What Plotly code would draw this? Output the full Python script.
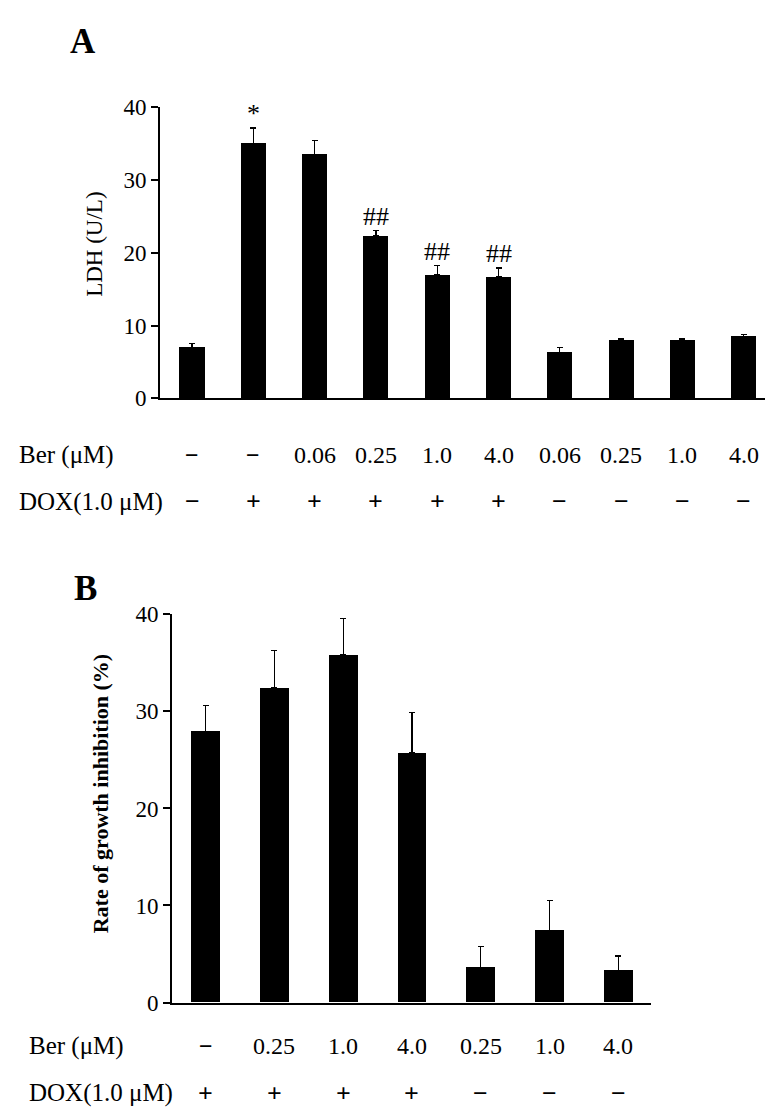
import plotly.graph_objects as go

# ---------------- data ----------------
# Panel A
a_ber = ["−", "−", "0.06", "0.25", "1.0", "4.0", "0.06", "0.25", "1.0", "4.0"]
a_dox = ["−", "+", "+", "+", "+", "+", "−", "−", "−", "−"]
a_ldh = [7.0, 35.0, 33.5, 22.3, 17.0, 16.7, 6.3, 8.0, 8.0, 8.5]
a_err = [0.5, 2.1, 1.9, 0.7, 1.2, 1.2, 0.7, 0.2, 0.2, 0.3]
a_marks = ["", "*", "", "##", "##", "##", "", "", "", ""]

# Panel B
b_ber = ["−", "0.25", "1.0", "4.0", "0.25", "1.0", "4.0"]
b_dox = ["+", "+", "+", "+", "−", "−", "−"]
b_inh = [27.9, 32.4, 35.8, 25.7, 3.6, 7.4, 3.3]
b_err = [2.7, 3.9, 3.8, 4.2, 2.2, 3.1, 1.5]

SERIF = "Liberation Serif, Times New Roman, serif"
W, H = 773, 1117

xa = list(range(len(a_ldh)))
xb = list(range(len(b_inh)))

fig = go.Figure()

fig.add_trace(go.Bar(
    x=xa, y=a_ldh, width=0.41, marker=dict(color="black", line=dict(width=0)),
    error_y=dict(type="data", symmetric=False, array=a_err, arrayminus=[0] * len(a_err),
                 color="black", thickness=1.3, width=3),
    xaxis="x", yaxis="y", showlegend=False,
))
fig.add_trace(go.Bar(
    x=xb, y=b_inh, width=0.42, marker=dict(color="black", line=dict(width=0)),
    error_y=dict(type="data", symmetric=False, array=b_err, arrayminus=[0] * len(b_err),
                 color="black", thickness=1.3, width=3),
    xaxis="x2", yaxis="y2", showlegend=False,
))

axis_common = dict(showgrid=False, zeroline=False, showline=True, linecolor="black",
                   linewidth=1.6)

fig.update_layout(
    width=W, height=H,
    margin=dict(l=0, r=0, t=0, b=0),
    paper_bgcolor="white", plot_bgcolor="white",
    font=dict(family=SERIF, color="black"),
    bargap=0,
    xaxis=dict(domain=[152 / W, 765 / W], range=[-0.522, len(xa) - 0.522],
               showticklabels=False, ticks="", anchor="y", **axis_common),
    yaxis=dict(domain=[1 - 387 / H, 1 - 89 / H], range=[0, 40], tickvals=[0, 10, 20, 30, 40],
               ticks="outside", ticklen=7, tickwidth=1.6, tickcolor="black",
               tickfont=dict(family=SERIF, size=23), anchor="x", **axis_common),
    xaxis2=dict(domain=[164 / W, 643 / W], range=[-0.49, len(xb) - 0.524],
                showticklabels=False, ticks="", anchor="y2", **axis_common),
    yaxis2=dict(domain=[1 - 1005 / H, 1 - 608 / H], range=[0, 40], tickvals=[0, 10, 20, 30, 40],
                ticks="outside", ticklen=7, tickwidth=1.6, tickcolor="black",
                tickfont=dict(family=SERIF, size=23), anchor="x2", **axis_common),
)


def note(text, x, y, xref="paper", yref="paper", size=25, xanchor="center",
         yanchor="middle", **kw):
    return dict(text=text, x=x, y=y, xref=xref, yref=yref, showarrow=False,
                xanchor=xanchor, yanchor=yanchor, font=dict(family=SERIF, size=size), **kw)


def sign(t):
    return f"<b>{t}</b>" if t in ("+", "−") else t


ann = []
# panel letters
ann.append(note("<b>A</b>", 75 / W, 1 - 22 / H, size=35))
ann.append(note("<b>B</b>", 77 / W, 1 - 582 / H, size=35))
# axis titles
ann.append(note("LDH (U/L)", 87 / W, 1 - 230 / H, size=23, textangle=-90))
ann.append(note("<b>Rate of growth inhibition (%)</b>", 92 / W, 1 - 791 / H, size=22,
                textangle=-90))

# significance marks
for xi, v, e, m in zip(xa, a_ldh, a_err, a_marks):
    if m:
        ann.append(note(m, xi, v + e, xref="x", yref="y", yanchor="bottom",
                        size=26, yshift=-2))

# row labels panel A
ann.append(note("Ber (μM)", 9 / W, 1 - 445 / H, xanchor="left", size=25))
ann.append(note("DOX(1.0 μM)", 9 / W, 1 - 493 / H, xanchor="left", size=25))
for xi, t in zip(xa, a_ber):
    ann.append(note(sign(t), xi, 1 - 445 / H, xref="x", size=24))
for xi, t in zip(xa, a_dox):
    ann.append(note(sign(t), xi, 1 - 493 / H, xref="x", size=26))

# row labels panel B
ann.append(note("Ber (μM)", 19 / W, 1 - 1050 / H, xanchor="left", size=25))
ann.append(note("DOX(1.0 μM)", 19 / W, 1 - 1098 / H, xanchor="left", size=25))
for xi, t in zip(xb, b_ber):
    ann.append(note(sign(t), xi, 1 - 1050 / H, xref="x2", size=24))
for xi, t in zip(xb, b_dox):
    ann.append(note(sign(t), xi, 1 - 1098 / H, xref="x2", size=26))

fig.update_layout(annotations=ann)

fig.write_html("out.html")
